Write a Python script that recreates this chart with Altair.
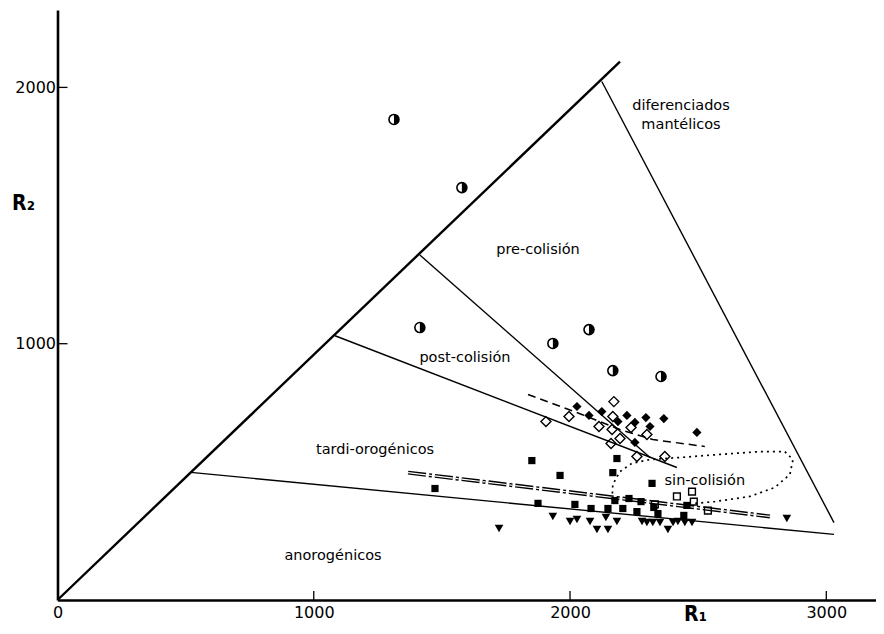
import altair as alt
import pandas as pd

# ---------------- axis ticks ----------------
x_label_values = [0, 1000, 2000, 3000]
x_tick_marks = [1000, 2000, 3000]
y_label_values = [1000, 2000]

# ---------------- samples (R1, R2) ----------------
circ_r1 = [1313, 1578, 1414, 1933, 2074, 2167, 2355]
circ_r2 = [1875, 1609, 1063, 1001, 1055, 895, 872]

dopen_r1 = [2171, 1996, 1906, 2167, 2113, 2164, 2238, 2195, 2160, 2261, 2370, 2300]
dopen_r2 = [774, 716, 696, 716, 677, 665, 673, 630, 611, 560, 560, 646]

dfill_r1 = [2027, 2074, 2124, 2187, 2222, 2253, 2296, 2312, 2366, 2495, 2253]
dfill_r2 = [755, 720, 735, 696, 720, 693, 712, 677, 708, 654, 615]

sqf_r1 = [1851, 1961, 1473, 2183, 2167, 2320, 1875, 2019, 2082, 2148, 2175, 2230,
          2277, 2206, 2261, 2327, 2343, 2444, 2456]
sqf_r2 = [544, 486, 435, 552, 497, 455, 377, 373, 357, 357, 388, 396,
          384, 357, 345, 361, 337, 330, 369]

sqo_r1 = [2331, 2417, 2476, 2483, 2538]
sqo_r2 = [373, 404, 423, 384, 349]

tri_r1 = [1723, 1933, 2000, 2027, 2078, 2105, 2148, 2140, 2183, 2281, 2300, 2323,
          2351, 2382, 2402, 2421, 2448, 2476, 2846]
tri_r2 = [279, 326, 306, 314, 306, 275, 275, 322, 306, 306, 302, 302,
          302, 275, 302, 306, 302, 302, 318]

# ---------------- field boundaries ----------------
diag_r1 = [0, 2195]
diag_r2 = [0, 2101]
mant_r1 = [2124, 3030]
mant_r2 = [2023, 302]
anor_r1 = [520, 3030]
anor_r2 = [498, 256]
prec_r1 = [1414, 2312]
prec_r2 = [1346, 556]
post_r1 = [1083, 2417]
post_r2 = [1031, 517]

# trend lines / envelopes
dash_r1 = [1836, 2046, 2195, 2323, 2526]
dash_r2 = [802, 724, 665, 626, 599]
dot_r1 = [2164, 2167, 2195, 2241, 2312, 2429, 2585, 2741, 2838, 2870, 2858, 2799,
          2702, 2565, 2487]
dot_r2 = [392, 451, 501, 533, 548, 556, 568, 579, 579, 548, 490, 439,
          404, 384, 377]
dd_r1 = [1368, 2780]
dd_r2 = [497, 326]

# ---------------- field labels ----------------
lab_text = ["pre-colisión", "post-colisión", "tardi-orogénicos", "anorogénicos",
            "sin-colisión", "diferenciados", "mantélicos"]
lab_r1 = [1875, 1590, 1239, 1075, 2526, 2433, 2433]
lab_r2 = [1364, 946, 587, 170, 466, 1926, 1855]


def frame(r1, r2):
    return pd.DataFrame({"r1": r1, "r2": r2, "i": list(range(len(r1)))})


W, H = 818, 590
FONT = "DejaVu Sans"
TFONT = "DejaVu Sans Condensed, DejaVu Sans"

xs = alt.Scale(domain=[0, 3192], nice=False, zero=False)
ys = alt.Scale(domain=[0, 2302], nice=False, zero=False)

xax = alt.Axis(values=x_label_values, format="d", ticks=False, tickSize=0, grid=False,
               domainWidth=2.6, domainColor="black", labelFont=FONT, labelFontSize=16,
               labelColor="black", labelPadding=4, labelFlush=False,
               title="R₁", titleFont=TFONT,
               titleFontSize=21, titleFontWeight="bold", titleColor="black",
               titleX=637.5, titleY=14, titleAngle=0, titleAlign="center",
               titleBaseline="middle")
yax = alt.Axis(values=y_label_values, format="d", ticks=False, tickSize=0, grid=False,
               domainWidth=2.6, domainColor="black", labelFont=FONT, labelFontSize=16,
               labelColor="black", labelPadding=2,
               title="R₂", titleFont=TFONT,
               titleFontSize=21, titleFontWeight="bold", titleColor="black",
               titleX=-34.5, titleY=193, titleAngle=0, titleAlign="center",
               titleBaseline="middle")


def X():
    return alt.X("r1:Q", scale=xs, axis=xax)


def Y():
    return alt.Y("r2:Q", scale=ys, axis=yax)


def line(r1, r2, width, dash=None, color="black"):
    kw = dict(color=color, strokeWidth=width)
    if dash is not None:
        kw["strokeDash"] = dash
    return alt.Chart(frame(r1, r2)).mark_line(**kw).encode(
        x=X(), y=Y(), order="i:Q")


layers = [
    line(diag_r1, diag_r2, 2.4),
    line(mant_r1, mant_r2, 1.4),
    line(anor_r1, anor_r2, 1.4),
    line(prec_r1, prec_r2, 1.4),
    line(post_r1, post_r2, 1.4),
    line(dash_r1, dash_r2, 1.5, [8, 5]),
    line(dot_r1, dot_r2, 1.7, [2, 4]),
    line(dd_r1, dd_r2, 4.0, [18, 3, 3, 3]),
    line(dd_r1, dd_r2, 1.2, [18, 3, 3, 3], color="white"),
]

# inward tick marks
layers.append(
    alt.Chart(pd.DataFrame({"r1": x_tick_marks})).mark_rule(color="black", strokeWidth=1.3)
    .encode(x=X(), y=alt.value(H), y2=alt.value(H - 9))
)
layers.append(
    alt.Chart(pd.DataFrame({"r2": y_label_values})).mark_rule(color="black", strokeWidth=1.3)
    .encode(y=Y(), x=alt.value(0), x2=alt.value(10))
)

# samples
layers += [
    alt.Chart(frame(circ_r1, circ_r2)).mark_point(
        shape="M0,-1A1,1,0,0,1,0,1Z", filled=True, color="black", size=100, opacity=1
    ).encode(x=X(), y=Y()),
    alt.Chart(frame(circ_r1, circ_r2)).mark_point(
        shape="circle", filled=False, color="black", strokeWidth=1.6, size=100, opacity=1
    ).encode(x=X(), y=Y()),
    alt.Chart(frame(dopen_r1, dopen_r2)).mark_point(
        shape="diamond", filled=False, color="black", strokeWidth=1.4, size=100, opacity=1
    ).encode(x=X(), y=Y()),
    alt.Chart(frame(dfill_r1, dfill_r2)).mark_point(
        shape="diamond", filled=True, color="black", size=85, opacity=1
    ).encode(x=X(), y=Y()),
    alt.Chart(frame(sqf_r1, sqf_r2)).mark_point(
        shape="square", filled=True, color="black", size=52, opacity=1
    ).encode(x=X(), y=Y()),
    alt.Chart(frame(sqo_r1, sqo_r2)).mark_point(
        shape="square", filled=False, color="black", strokeWidth=1.4, size=46, opacity=1
    ).encode(x=X(), y=Y()),
    alt.Chart(frame(tri_r1, tri_r2)).mark_point(
        shape="triangle-down", filled=True, color="black", size=75, opacity=1
    ).encode(x=X(), y=Y()),
]

# field labels
layers.append(
    alt.Chart(pd.DataFrame({"r1": lab_r1, "r2": lab_r2, "t": lab_text})).mark_text(
        font=FONT, fontSize=14.5, color="black", align="center", baseline="middle"
    ).encode(x=X(), y=Y(), text="t:N")
)

chart = (
    alt.layer(*layers)
    .properties(
        width=W,
        height=H,
        padding={"left": 49.5, "top": 2, "right": 0.5, "bottom": 30},
        autosize=alt.AutoSizeParams(type="none"),
        background="white",
    )
    .configure_view(strokeWidth=0)
)

chart.save("out.html", embed_options={"renderer": "svg", "actions": False})
